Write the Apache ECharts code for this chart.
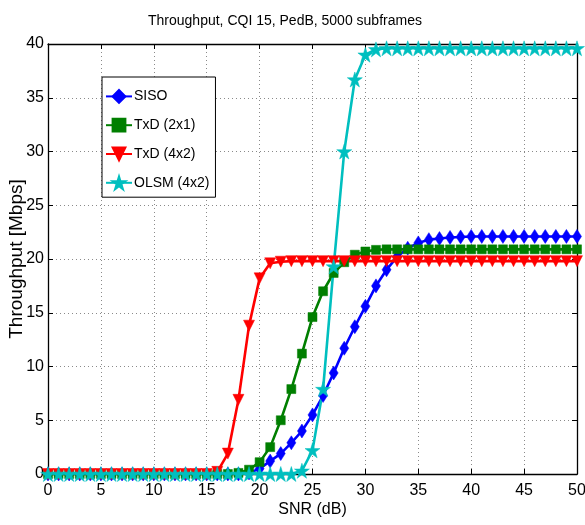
<!DOCTYPE html>
<html>
<head>
<meta charset="utf-8">
<script src="https://cdn.jsdelivr.net/npm/echarts@6/dist/echarts.min.js"></script>
<style>html,body{margin:0;padding:0;background:#fff;}#c{width:585px;height:525px;}</style>
</head>
<body>
<div id="c"></div>
<script>
var snr = [];
for (var i = 0; i <= 50; i++) snr.push(i);
var siso = [0,0,0,0,0,0,0,0,0,0, 0,0,0,0,0,0,0,0,0,0.1, 0.5,1.2,1.9,2.9,4.0,5.5,7.3,9.4,11.7,13.7, 15.6,17.5,19.0,20.2,21.0,21.5,21.8,21.9,22.0,22.05, 22.1,22.1,22.1,22.1,22.1,22.1,22.1,22.1,22.1,22.1,22.1];
var txd21 = [0,0,0,0,0,0,0,0,0,0, 0,0,0,0,0,0,0,0,0.1,0.4, 1.1,2.5,5.0,7.9,11.2,14.6,17.0,18.7,19.7,20.4, 20.7,20.85,20.9,20.9,20.9,20.9,20.9,20.9,20.9,20.9, 20.9,20.9,20.9,20.9,20.9,20.9,20.9,20.9,20.9,20.9,20.9];
var txd42 = [0,0,0,0,0,0,0,0,0,0, 0,0,0,0,0,0,0.2,1.9,6.9,13.8, 18.2,19.6,19.75,19.8,19.8,19.8,19.8,19.8,19.8,19.8, 19.8,19.8,19.8,19.8,19.8,19.8,19.8,19.8,19.8,19.8, 19.8,19.8,19.8,19.8,19.8,19.8,19.8,19.8,19.8,19.8,19.8];
var olsm = [0,0,0,0,0,0,0,0,0,0, 0,0,0,0,0,0,0,0,0,0, 0,0,0,0,0.3,2.2,7.9,19.3,30.0,36.7, 39.0,39.5,39.6,39.6,39.6,39.6,39.6,39.6,39.6,39.6, 39.6,39.6,39.6,39.6,39.6,39.6,39.6,39.6,39.6,39.6,39.6];
var seriesNames = ['SISO', 'TxD (2x1)', 'TxD (4x2)', 'OLSM (4x2)'];
var titleText = 'Throughput, CQI 15, PedB, 5000 subframes';
var xName = 'SNR (dB)';
var yName = 'Throughput [Mbps]';

var FONT = "'Liberation Sans', Arial, Helvetica, sans-serif";
var SZ = { title: 14, tick: 16, legend: 14, xname: 16, yname: 19 };

function pairs(ys) { return snr.map(function (x, k) { return [x, ys[k]]; }); }
var star = 'path://M100 0 L122.45 69.1 L195.1 69.1 L136.3 111.8 L158.8 180.9 L100 138.2 L41.2 180.9 L63.7 111.8 L4.9 69.1 L77.55 69.1 Z';

function mk(name, ys, color, symbol, size, rot) {
  return {
    name: name, type: 'line', data: pairs(ys),
    xAxisIndex: 0, yAxisIndex: 0,
    symbol: symbol, symbolSize: size, symbolRotate: rot || 0,
    showAllSymbol: true,
    lineStyle: { color: color, width: 2.6 },
    itemStyle: { color: color, borderColor: color, borderWidth: 0.5 },
    animation: false
  };
}

var chart = echarts.init(document.getElementById('c'), null, { renderer: 'canvas' });
var axisLine = { show: true, onZero: false, lineStyle: { color: '#000', width: 1.3 } };
var tick = { show: true, inside: true, length: 5, lineStyle: { color: '#000', width: 1 } };
chart.setOption({
  backgroundColor: '#fff',
  animation: false,
  textStyle: { fontFamily: FONT },
  title: {
    text: titleText, left: 143, top: 9,
    textStyle: { fontFamily: FONT, fontSize: SZ.title, fontWeight: 'normal', color: '#000' }
  },
  legend: {
    data: seriesNames, orient: 'vertical', left: 102, top: 77,
    padding: [12, 6, 7, 3], itemGap: 14, itemWidth: 26, itemHeight: 16,
    backgroundColor: '#fff', borderColor: '#000', borderWidth: 1,
    textStyle: { fontFamily: FONT, fontSize: SZ.legend, color: '#000', padding: [0, 0, 0, -3] }
  },
  grid: { left: 48, right: 8, top: 44, bottom: 51, containLabel: false, outerBoundsMode: 'none' },
  xAxis: [{
    type: 'value', min: 0, max: 50, interval: 5, position: 'bottom',
    name: xName, nameLocation: 'middle', nameGap: 28, nameMoveOverlap: false,
    nameTextStyle: { fontFamily: FONT, fontSize: SZ.xname, color: '#000' },
    axisLine: axisLine, axisTick: tick,
    axisLabel: { margin: 9, fontFamily: FONT, fontSize: SZ.tick, color: '#000' },
    splitLine: { show: true, lineStyle: { color: '#8a8a8a', width: 1, type: [1, 3] } }
  }, {
    type: 'value', min: 0, max: 50, interval: 5, position: 'top',
    axisLine: axisLine, axisTick: tick, axisLabel: { show: false }, splitLine: { show: false }
  }],
  yAxis: [{
    type: 'value', min: 0, max: 40, interval: 5, position: 'left',
    name: yName, nameLocation: 'middle', nameGap: 22, nameRotate: 90, nameMoveOverlap: false,
    nameTextStyle: { fontFamily: FONT, fontSize: SZ.yname, color: '#000' },
    axisLine: axisLine, axisTick: tick,
    axisLabel: { margin: 4, fontFamily: FONT, fontSize: SZ.tick, color: '#000' },
    splitLine: { show: true, lineStyle: { color: '#8a8a8a', width: 1, type: [1, 3] } }
  }, {
    type: 'value', min: 0, max: 40, interval: 5, position: 'right',
    axisLine: axisLine, axisTick: tick, axisLabel: { show: false }, splitLine: { show: false }
  }],
  series: [
    mk(seriesNames[0], siso, '#0000ff', 'diamond', [9, 14]),
    mk(seriesNames[1], txd21, '#007f00', 'rect', 9),
    mk(seriesNames[2], txd42, '#ff0000', 'triangle', [11, 11], 180),
    mk(seriesNames[3], olsm, '#00bfbf', star, 15)
  ]
});
</script>
</body>
</html>
